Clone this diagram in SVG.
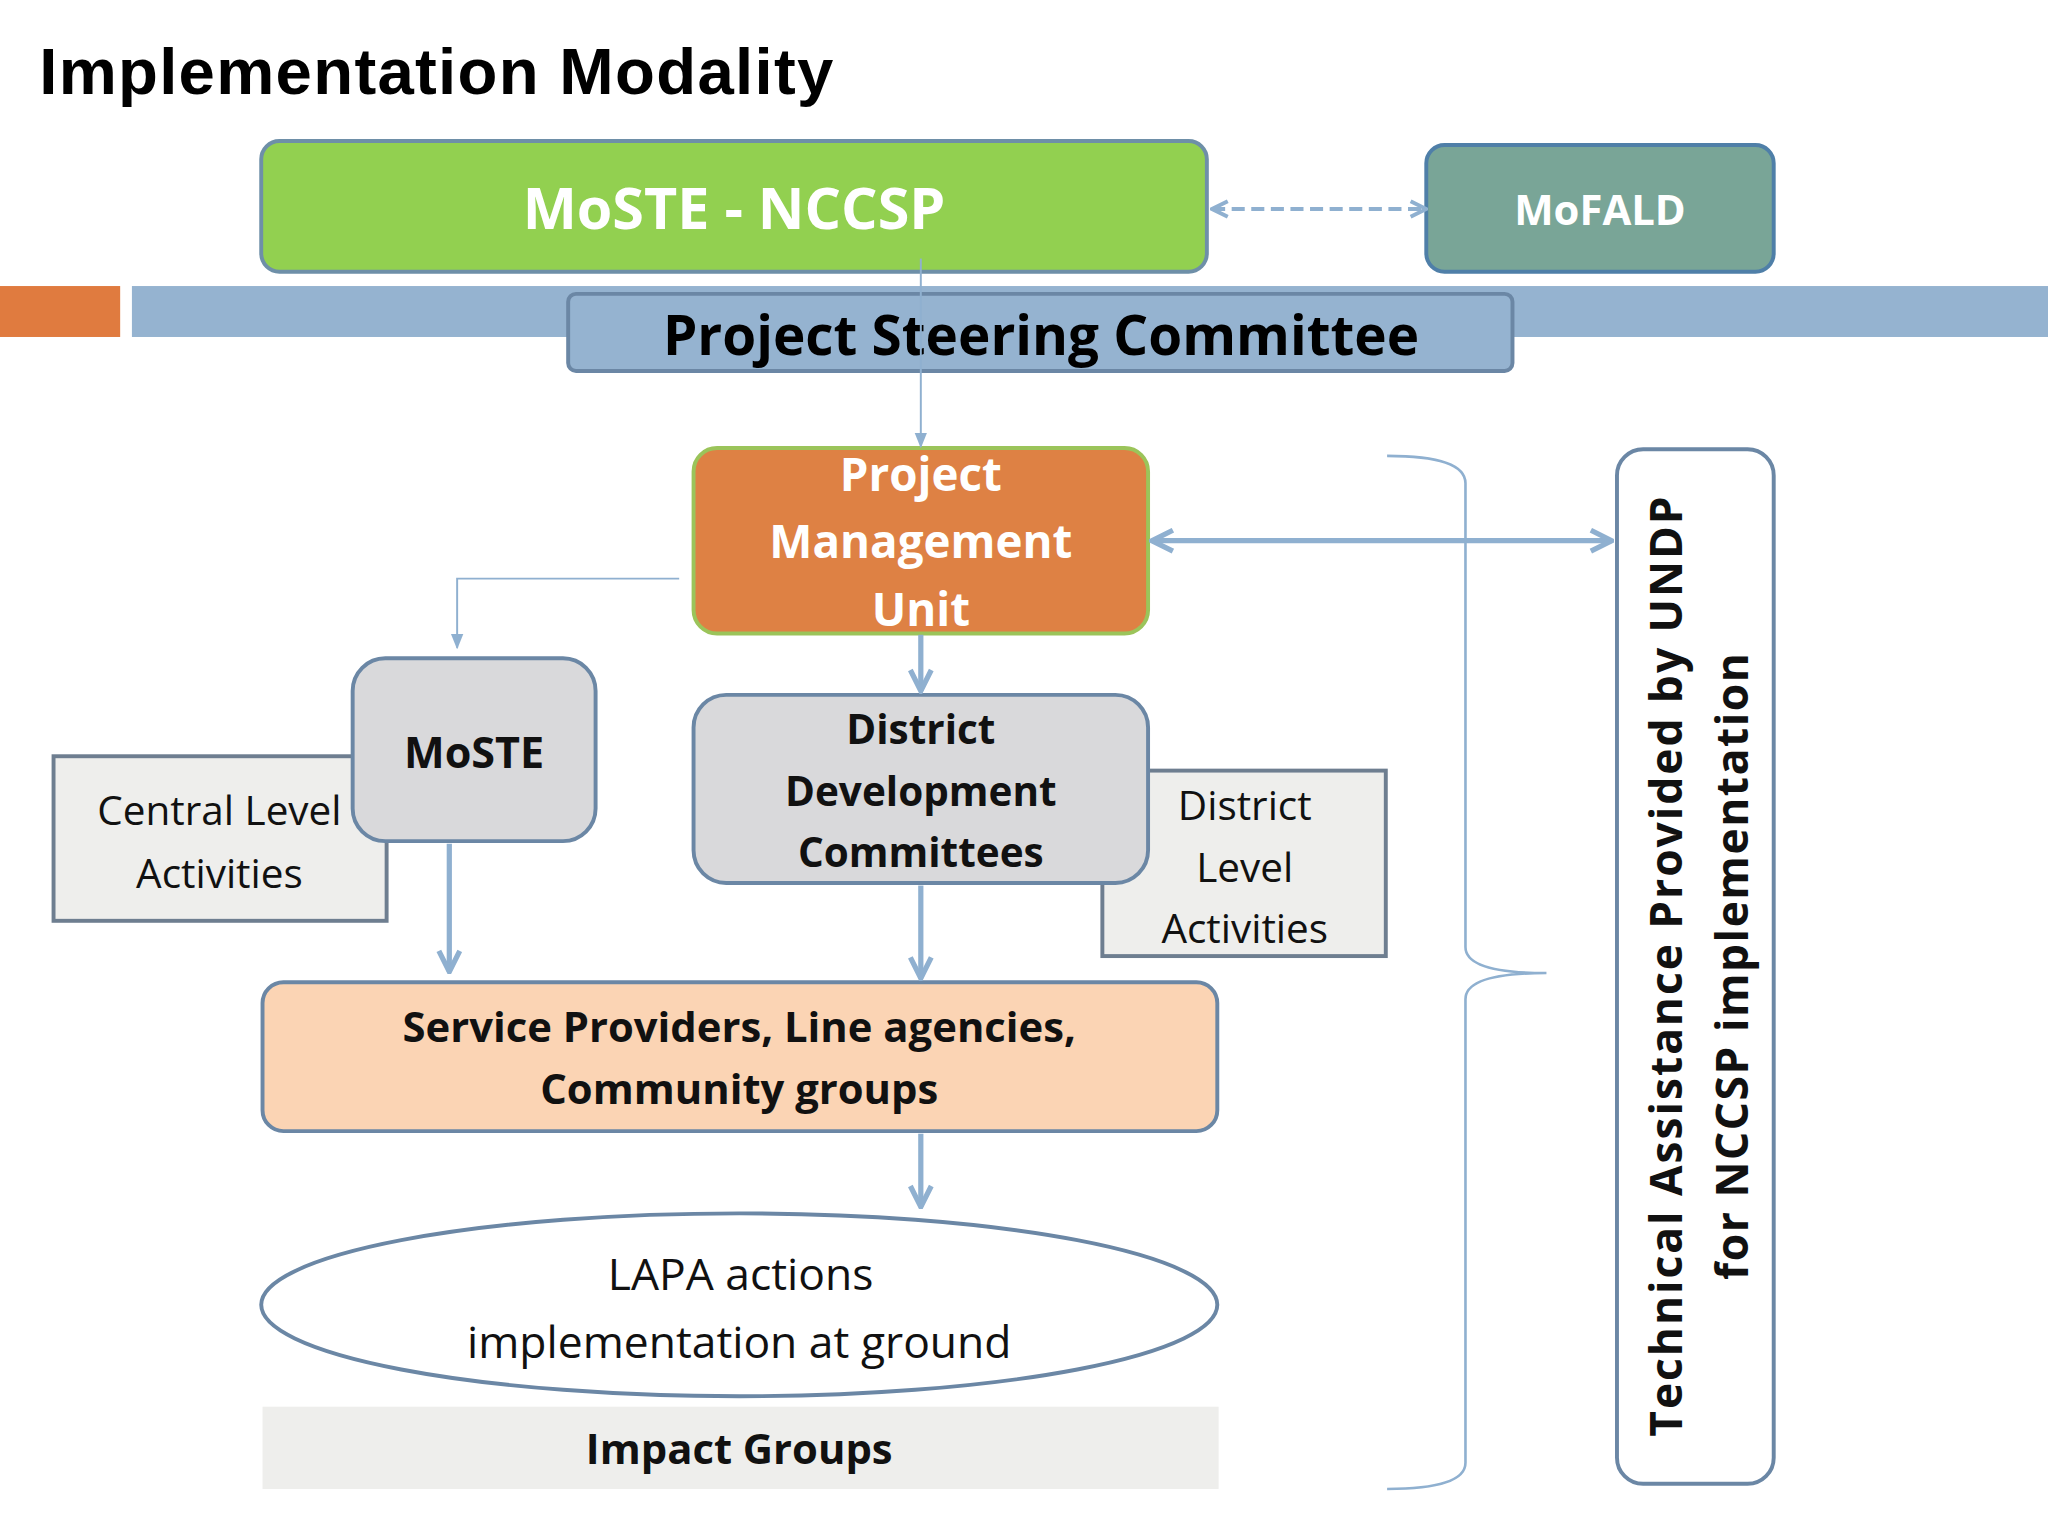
<svg xmlns="http://www.w3.org/2000/svg" width="2048" height="1536" viewBox="0 0 2048 1536">
<defs>
<marker id="ah" viewBox="0 0 10 10" refX="9" refY="5" markerWidth="5" markerHeight="5" orient="auto-start-reverse"><path d="M1,1 L9,5 L1,9" fill="none" stroke="#8fb0d0" stroke-width="2"/></marker>
<marker id="ahs" viewBox="0 0 10 10" refX="9" refY="5" markerWidth="8" markerHeight="8" orient="auto-start-reverse"><path d="M0,1 L10,5 L0,9 z" fill="#8fb0d0"/></marker>
</defs>
<style>
.b{font-family:"Open Sans","DejaVu Sans",sans-serif;font-weight:bold;text-anchor:middle}
.n{font-family:"Open Sans","DejaVu Sans",sans-serif;text-anchor:middle}
.c{fill:none;stroke:#8fb0d0}
</style>
<rect width="2048" height="1536" fill="#fff"/>
<g transform="scale(1.30612)">
<text x="30" y="72" font-family="Liberation Sans,Arial,sans-serif" font-weight="bold" font-size="50" textLength="608">Implementation Modality</text>
<rect x="0" y="219" width="92" height="39" fill="#E07B3F"/>
<rect x="101" y="219" width="1467" height="39" fill="#95B3D0"/>
<g id="moste-nccsp"><rect x="200" y="108" width="724" height="100" rx="14" fill="#92D050" stroke="#6e8fa8" stroke-width="3"/><text class="b" x="562" y="175" font-size="44" fill="#fff">MoSTE - NCCSP</text></g>
<g id="mofald"><rect x="1092" y="111" width="266" height="97" rx="14" fill="#79a597" stroke="#4f7fa8" stroke-width="3"/><text class="b" x="1225" y="172" font-size="32" fill="#fff">MoFALD</text></g>
<g id="psc"><rect x="435" y="225" width="723" height="59" rx="6" fill="#95B3D0" stroke="#6b87a5" stroke-width="3"/><text class="b" x="797" y="272" font-size="42" fill="#000">Project Steering Committee</text></g>
<g id="pmu"><rect x="531" y="343" width="348" height="142" rx="18" fill="#DE8144" stroke="#9bc45a" stroke-width="3"/><text class="b" font-size="35" fill="#fff"><tspan x="705" y="376">Project</tspan><tspan x="705" y="427">Management</tspan><tspan x="705" y="479">Unit</tspan></text></g>
<g id="central"><rect x="41" y="579" width="255" height="126" fill="#eeeeec" stroke="#6e7e90" stroke-width="3"/><text class="n" font-size="31" fill="#111"><tspan x="168" y="632">Central Level</tspan><tspan x="168" y="680">Activities</tspan></text></g>
<g id="moste"><rect x="270" y="504" width="186" height="140" rx="25" fill="#d9d9db" stroke="#6b87a5" stroke-width="3"/><text class="b" x="363" y="588" font-size="33" fill="#111">MoSTE</text></g>
<g id="district-level"><rect x="844" y="590" width="217" height="142" fill="#eeeeec" stroke="#6e7e90" stroke-width="3"/><text class="n" font-size="31" fill="#111"><tspan x="953" y="628">District</tspan><tspan x="953" y="675">Level</tspan><tspan x="953" y="722">Activities</tspan></text></g>
<g id="ddc"><rect x="531" y="532" width="348" height="144" rx="25" fill="#d9d9db" stroke="#6b87a5" stroke-width="3"/><text class="b" font-size="31" fill="#111"><tspan x="705" y="570">District</tspan><tspan x="705" y="617">Development</tspan><tspan x="705" y="664">Committees</tspan></text></g>
<g id="service"><rect x="201" y="752" width="731" height="114" rx="16" fill="#FBD4B4" stroke="#6b87a5" stroke-width="3"/><text class="b" font-size="32" fill="#111"><tspan x="566" y="798">Service Providers, Line agencies,</tspan><tspan x="566" y="845">Community groups</tspan></text></g>
<g id="lapa"><ellipse cx="566" cy="999" rx="366" ry="70" fill="#fff" stroke="#6b87a5" stroke-width="3"/><text class="n" font-size="34" fill="#111"><tspan x="567" y="988">LAPA actions</tspan><tspan x="566" y="1040">implementation at ground</tspan></text></g>
<g id="impact"><rect x="201" y="1077" width="732" height="63" fill="#eeeeec"/><text class="b" x="566" y="1121" font-size="32" fill="#111">Impact Groups</text></g>
<g id="ta"><rect x="1238" y="344" width="120" height="792" rx="20" fill="#fff" stroke="#6b87a5" stroke-width="3"/><text class="b" font-size="34" fill="#111" transform="translate(1288,740) rotate(-90)" textLength="720">Technical Assistance Provided by UNDP</text><text class="b" font-size="34" fill="#111" transform="translate(1338,740) rotate(-90)" textLength="480">for NCCSP implementation</text></g>
<g id="connectors">
<line class="c" x1="928" y1="160" x2="1092" y2="160" stroke-width="3" stroke-dasharray="10,5" marker-start="url(#ah)" marker-end="url(#ah)"/>
<line class="c" x1="705" y1="198" x2="705" y2="342" stroke-width="1.5" marker-end="url(#ahs)"/>
<line class="c" x1="882" y1="414" x2="1234" y2="414" stroke-width="4" marker-start="url(#ah)" marker-end="url(#ah)"/>
<polyline class="c" points="520,443 350,443 350,496" stroke-width="1.5" marker-end="url(#ahs)"/>
<line class="c" x1="705" y1="486" x2="705" y2="529" stroke-width="4" marker-end="url(#ah)"/>
<line class="c" x1="344" y1="646" x2="344" y2="744" stroke-width="4" marker-end="url(#ah)"/>
<line class="c" x1="705" y1="678" x2="705" y2="749" stroke-width="4" marker-end="url(#ah)"/>
<line class="c" x1="705" y1="868" x2="705" y2="924" stroke-width="4" marker-end="url(#ah)"/>
<path class="c" stroke-width="2" d="M1062,349 Q1122,349 1122,370 L1122,725 Q1122,745 1184,745 Q1122,745 1122,765 L1122,1120 Q1122,1140 1062,1140"/>
</g>
</g>
</svg>
